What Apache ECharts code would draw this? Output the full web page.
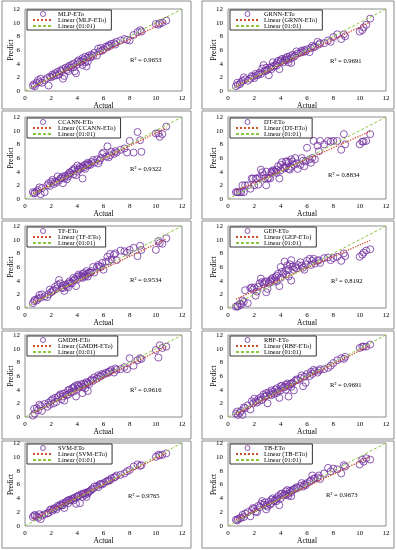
<!DOCTYPE html>
<html><head><meta charset="utf-8">
<script src="https://cdn.jsdelivr.net/npm/echarts@6/dist/echarts.min.js"></script>
<style>html,body{margin:0;padding:0;background:#fff}#c{width:397px;height:550px}</style>
</head><body><div id="c"></div><script>
// ---------- data ----------
const models = ['MLP-ETo','GRNN-ETo','CCANN-ETo','DT-ETo','TF-ETo','GEP-ETo','GMDH-ETo','RBF-ETo','SVM-ETo','TB-ETo'];
const r2Text = ['R² = 0.9653','R² = 0.9691','R² = 0.9322','R² = 0.8834','R² = 0.9534','R² = 0.8192','R² = 0.9616','R² = 0.9691','R² = 0.9765','R² = 0.9673'];
const axisTicks = [0,2,4,6,8,10,12];
const actual = [
0.6,0.7,0.75,0.9,1.0,1.1,1.2,1.3,1.5,1.7,
1.8,1.9,2.0,2.1,2.2,2.3,2.4,2.5,2.6,2.7,
2.8,2.9,2.9,3.0,3.1,3.2,3.3,3.3,3.4,3.5,
3.6,3.7,3.7,3.8,3.9,4.0,4.0,4.1,4.2,4.3,
4.4,4.4,4.5,4.6,4.6,4.7,4.8,4.8,4.9,5.0,
5.1,5.2,5.3,5.5,5.6,5.7,5.8,5.9,6.0,6.2,
6.3,6.4,6.5,6.6,6.8,6.9,7.0,7.3,7.6,7.8,
8.0,8.3,8.6,8.8,8.9,10.0,10.2,10.3,10.5,10.8];
const predMLP = [
0.8,1.0,0.7,1.2,1.6,1.3,1.8,1.2,1.6,1.9,
0.8,2.1,2.0,2.4,2.2,2.6,2.3,2.8,2.4,3.0,
2.9,3.2,1.8,2.2,3.4,3.1,3.5,2.9,3.7,3.4,
3.8,3.5,4.0,2.9,2.6,4.3,3.9,4.5,4.2,4.4,
4.8,3.8,4.6,4.2,5.0,3.6,4.9,4.3,5.2,4.9,
5.3,5.1,5.6,5.2,6.2,5.8,6.3,5.9,6.1,6.5,
6.4,6.7,6.6,6.9,7.0,6.8,7.2,7.4,7.6,7.5,
7.4,8.2,8.6,8.9,8.7,9.8,9.7,9.9,10.0,10.3];
const predGRNN = [
0.7,1.2,0.9,1.0,1.3,1.5,2.0,1.7,1.5,1.8,
2.2,2.1,1.9,2.5,2.3,2.4,2.7,2.5,3.3,3.8,
2.9,3.4,3.0,3.1,2.3,3.4,3.6,3.2,4.2,3.6,
3.8,4.1,3.7,4.4,3.2,4.5,4.3,4.7,4.2,4.6,
4.8,4.5,5.0,4.6,4.2,5.1,4.8,4.1,5.3,5.0,
5.2,5.8,5.5,5.6,5.9,5.7,6.0,5.8,6.1,5.7,
6.3,6.6,6.4,6.5,7.2,6.8,7.0,7.0,7.4,7.2,
7.9,8.3,7.6,8.3,8.0,8.7,8.9,9.3,9.7,10.6];
const predCCANN = [
1.0,0.8,0.9,1.1,1.3,1.7,0.7,1.6,1.0,2.0,
2.3,1.9,2.5,2.8,2.2,2.6,2.4,3.3,2.7,3.0,
3.1,2.3,3.3,3.0,3.4,2.9,3.6,3.3,3.9,3.8,
4.1,3.6,4.3,4.5,3.5,4.9,4.0,4.3,4.7,4.5,
3.0,4.8,4.6,5.0,4.4,5.1,4.9,5.3,5.1,5.0,
5.4,5.7,5.3,5.8,5.2,5.6,6.0,6.6,6.8,6.2,
7.7,6.1,6.4,6.9,6.6,7.0,6.8,7.2,7.4,6.8,
8.5,6.8,9.8,8.6,6.9,9.6,9.6,9.1,9.5,10.6];
const predDT = [
1.0,1.0,1.0,1.0,1.0,2.0,1.0,2.0,2.0,1.5,
3.0,3.0,2.0,3.0,3.0,2.1,3.2,4.3,3.9,3.5,
3.0,4.0,2.0,3.0,3.1,3.0,4.0,3.8,4.2,4.1,
4.0,4.3,3.8,4.8,3.0,5.0,4.2,5.4,4.6,4.5,
5.5,4.8,5.5,4.4,5.3,4.3,5.8,4.7,5.5,5.0,
6.0,5.2,4.4,5.0,6.0,5.6,4.8,5.5,7.5,5.8,
5.3,6.0,8.5,5.8,7.8,7.0,8.5,8.0,8.5,8.4,
8.5,8.5,7.2,9.5,8.0,8.0,8.4,8.4,8.5,9.5];
const predTF = [
0.7,1.0,1.2,1.1,1.4,1.9,1.5,2.0,1.7,1.6,
2.0,2.7,2.3,2.5,2.6,3.1,2.8,3.4,4.1,3.6,
3.0,3.3,2.9,2.5,3.4,3.2,3.6,3.0,3.9,3.7,
3.6,4.4,4.0,4.2,3.2,4.6,4.2,4.9,4.7,4.5,
5.0,4.4,5.1,4.8,4.6,5.4,5.0,4.6,5.2,5.2,
5.4,6.0,5.2,6.0,6.3,6.1,6.0,6.6,5.6,6.8,
7.5,6.8,7.9,7.1,7.8,8.0,7.0,8.4,8.3,8.1,
8.5,8.8,7.6,9.1,8.5,8.5,9.8,9.5,9.4,10.2];
const predGEP = [
0.2,0.3,0.2,0.6,0.5,1.1,0.9,2.6,0.7,2.9,
3.0,2.7,3.0,1.8,2.4,3.1,3.6,4.3,3.8,3.5,
3.8,3.9,2.3,2.8,3.6,4.0,4.2,3.8,4.4,4.0,
4.5,3.9,4.7,5.0,3.2,6.0,4.4,5.3,5.0,6.8,
4.9,5.5,6.2,4.6,5.7,6.4,7.0,4.0,6.1,5.6,
6.0,5.8,6.3,6.7,6.2,5.9,5.6,6.4,6.9,7.2,
6.3,6.9,7.2,6.5,6.9,7.0,6.6,7.3,7.4,7.0,
7.3,7.5,6.9,8.0,7.6,7.5,7.8,8.1,8.4,8.6];
const predGMDH = [
0.2,1.2,0.5,1.3,1.0,1.8,1.6,0.9,1.9,1.5,
2.1,1.8,2.4,2.6,2.0,2.8,2.2,2.9,3.1,3.3,
2.6,3.4,3.0,2.4,3.5,3.2,3.9,3.3,4.0,3.6,
4.2,3.7,4.3,4.5,3.0,4.7,4.1,4.6,4.4,4.8,
4.4,3.5,4.9,4.7,4.2,5.1,3.8,5.0,4.8,5.3,
5.5,5.3,5.8,5.6,6.1,5.9,6.0,6.3,6.2,6.5,
6.4,6.6,6.7,6.9,6.5,7.1,6.9,7.0,7.3,7.0,
8.6,7.5,8.3,8.6,8.5,9.8,8.7,10.5,10.1,10.3];
const predRBF = [
0.5,0.8,0.3,0.6,0.9,0.3,1.4,1.3,1.7,1.1,
2.3,2.0,2.7,2.3,2.1,2.6,2.4,2.9,2.5,3.3,
3.0,3.5,3.1,2.0,3.6,3.3,3.9,3.2,3.7,3.4,
4.0,3.5,4.2,3.8,2.8,4.5,3.9,4.6,4.3,4.4,
4.7,4.0,4.9,3.0,4.5,4.8,4.9,4.4,5.0,3.9,
5.3,5.5,5.4,5.7,6.1,4.5,5.9,5.0,6.3,6.0,
6.6,6.3,6.9,6.7,6.5,6.8,7.0,7.0,7.2,7.5,
7.9,8.3,8.6,8.5,8.8,10.1,10.3,10.3,10.3,10.6];
const predSVM = [
1.3,1.5,1.6,1.4,1.2,1.7,1.0,1.5,1.7,1.8,
1.9,2.3,2.4,2.2,2.5,2.6,2.4,2.9,2.8,3.1,
3.0,3.3,3.0,2.6,3.4,3.6,3.7,3.3,3.8,3.7,
3.9,3.7,4.0,4.1,3.2,4.3,4.2,4.4,3.3,4.6,
4.6,4.2,4.7,4.8,4.5,4.2,4.9,4.7,5.0,5.1,
5.3,5.4,5.7,5.8,5.6,6.0,6.1,6.0,6.2,6.4,
6.5,6.6,6.6,6.9,7.0,7.1,7.3,7.4,7.6,7.9,
8.1,8.6,8.9,8.7,8.8,10.0,10.3,10.2,10.3,10.5];
const predTB = [
0.9,0.8,1.0,1.1,1.2,1.6,1.3,1.8,2.0,1.4,
2.3,2.6,2.5,2.1,2.0,2.9,2.7,3.2,3.6,3.1,
3.4,3.0,2.4,2.8,3.5,3.1,3.8,3.3,4.0,3.6,
3.8,4.0,3.6,4.3,3.0,4.6,4.0,4.7,4.4,4.6,
5.0,4.5,5.2,4.7,4.4,5.1,4.9,4.3,5.2,5.3,
5.4,5.6,5.5,5.8,6.2,5.7,6.0,5.9,6.2,6.4,
6.6,7.3,6.8,6.9,7.0,7.3,6.8,7.6,8.4,7.9,
8.3,8.2,7.6,8.8,8.6,8.9,9.6,9.3,9.8,9.6];
// trend line end points (x = 0.6 and x = 10.8)
const trendX = [0.6, 10.8];
const trendMLP = [0.6, 10.2];
const trendGRNN = [0.7, 10.1];
const trendCCANN = [0.8, 10.4];
const trendDT = [1.2, 9.9];
const trendTF = [0.8, 10.1];
const trendGEP = [1.3, 9.9];
const trendGMDH = [0.6, 10.3];
const trendRBF = [0.4, 10.5];
const trendSVM = [1.0, 10.5];
const trendTB = [0.9, 10.0];
const oneToOneX = [0, 12];
const oneToOneY = [0, 12];

const preds = [predMLP,predGRNN,predCCANN,predDT,predTF,predGEP,predGMDH,predRBF,predSVM,predTB];
const trends = [trendMLP,trendGRNN,trendCCANN,trendDT,trendTF,trendGEP,trendGMDH,trendRBF,trendSVM,trendTB];

// ---------- layout ----------
const FONT = 'Liberation Serif';
const PURPLE = '#7030A0';
const RED = '#D0502A';
const GREEN = '#8CC63F';
const colLeft = [25, 228], colWidth = [157, 158];
const rowTop = [9, 117, 226, 335, 443], rowH = [82, 82, 82, 82, 83];
const frameX = [2, 202], frameW = [189, 192];
const frameY = [1, 111, 221, 331, 441], frameH = [108, 108, 108, 108, 107];
const legendIconW = [20, 23];
const r2Pos = [[130,60],[330,61],[130,169],[328,175],[130,280],[331,281],[130,390],[330,385],[128,496],[326,495]];

const grid = [], xAxis = [], yAxis = [], series = [], legend = [], graphic = [];
models.forEach((m, i) => {
  const c = i % 2, r = Math.floor(i / 2);
  grid.push({left: colLeft[c], top: rowTop[r], width: colWidth[c], height: rowH[r],
    show: true, borderColor: '#8c8c8c', borderWidth: 1, backgroundColor: 'transparent'});
  const axCommon = {gridIndex: i, type: 'value', min: axisTicks[0], max: axisTicks[axisTicks.length-1], interval: 2,
    axisLine: {show: false}, axisTick: {show: false}, splitLine: {show: false},
    axisLabel: {fontSize: 7, color: '#000', fontFamily: FONT},
    nameMoveOverlap: false,
    nameTextStyle: {fontSize: 7.5, color: '#000', fontFamily: FONT}};
  xAxis.push(Object.assign({}, axCommon, {name: 'Actual', nameLocation: 'middle', nameGap: 11,
    axisLabel: Object.assign({}, axCommon.axisLabel, {margin: 4})}));
  yAxis.push(Object.assign({}, axCommon, {name: 'Predict', nameLocation: 'middle', nameGap: 10,
    axisLabel: Object.assign({}, axCommon.axisLabel, {margin: 5})}));
  const trendName = 'Linear (' + m + ')';
  series.push({type: 'scatter', name: m, xAxisIndex: i, yAxisIndex: i, symbol: 'circle', symbolSize: 7,
    itemStyle: {color: 'rgba(0,0,0,0)', borderColor: PURPLE, borderWidth: 1},
    data: actual.map((a, k) => [a, preds[i][k]]), z: 3});
  series.push({type: 'line', name: trendName, xAxisIndex: i, yAxisIndex: i, symbol: 'none',
    lineStyle: {color: RED, width: 1.3, type: 'dotted'}, itemStyle: {color: RED},
    data: trendX.map((x, k) => [x, trends[i][k]]), z: 4});
  series.push({type: 'line', name: 'Linear (01:01)', xAxisIndex: i, yAxisIndex: i, symbol: 'none',
    lineStyle: {color: GREEN, width: 1, type: [3, 2]}, itemStyle: {color: GREEN},
    data: oneToOneX.map((x, k) => [x, oneToOneY[k]]), z: 4});
  legend.push({left: colLeft[c] + 2, top: rowTop[r] + 1, orient: 'vertical', itemGap: 0,
    itemWidth: legendIconW[c], itemHeight: 5, padding: [1, 5, 1, 5], borderColor: '#000', borderWidth: 0.8,
    backgroundColor: '#fff', selectedMode: false,
    textStyle: {fontSize: 6.4, color: '#000', fontFamily: FONT, padding: [0, 0, 0, 0]},
    data: [{name: m, icon: 'circle', itemStyle: {color: 'rgba(0,0,0,0)', borderColor: PURPLE, borderWidth: 1}},
           {name: trendName, itemStyle: {opacity: 0}},
           {name: 'Linear (01:01)', itemStyle: {opacity: 0}}]});
  graphic.push({type: 'rect', shape: {x: frameX[c], y: frameY[r], width: frameW[c], height: frameH[r]},
    style: {fill: 'none', stroke: '#8c8c8c', lineWidth: 1}, silent: true, z: 0});
  graphic.push({type: 'text', x: r2Pos[i][0], y: r2Pos[i][1],
    style: {text: r2Text[i], font: '6.6px "Liberation Serif"', fill: '#000', verticalAlign: 'middle'}, z: 10});
});

const chart = echarts.init(document.getElementById('c'), null, {renderer: 'canvas'});
chart.setOption({animation: false, backgroundColor: '#fff', grid, xAxis, yAxis, series, legend, graphic});
</script></body></html>
